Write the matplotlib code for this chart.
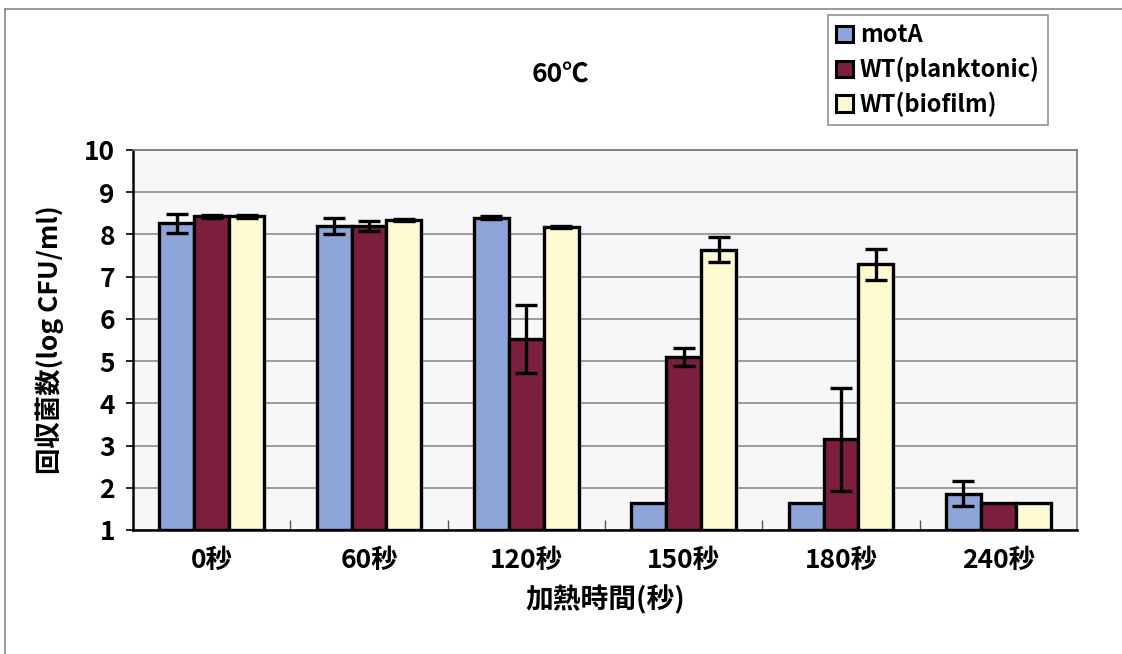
import matplotlib
matplotlib.use("Agg")
import matplotlib.pyplot as plt
import numpy as np
from matplotlib.patches import Patch
from matplotlib.lines import Line2D

plt.rcParams['font.family'] = ['Noto Sans CJK JP', 'DejaVu Sans']

categories = ["0秒", "60秒", "120秒", "150秒", "180秒", "240秒"]
series_names = ["motA", "WT(planktonic)", "WT(biofilm)"]
motA = [8.26, 8.20, 8.40, 1.65, 1.65, 1.86]
motA_err = [0.22, 0.20, 0.03, 0.0, 0.0, 0.29]
planktonic = [8.43, 8.21, 5.52, 5.10, 3.15, 1.65]
planktonic_err = [0.03, 0.12, 0.80, 0.22, 1.22, 0.0]
biofilm = [8.43, 8.34, 8.18, 7.64, 7.29, 1.65]
biofilm_err = [0.03, 0.02, 0.03, 0.30, 0.36, 0.0]
colors = ["#8EA5DA", "#7C1F3E", "#FDF9D0"]
yticks = [1, 2, 3, 4, 5, 6, 7, 8, 9, 10]

W, H = 1122, 654
fig = plt.figure(figsize=(W / 100, H / 100), dpi=100)
fig.patch.set_facecolor("white")

# outer chart frame (left and top)
fig.add_artist(Line2D([5 / W, 5 / W], [0.0, 1 - 9 / H], color="#888888", lw=1.2))
fig.add_artist(Line2D([5 / W, 1.0], [1 - 9 / H, 1 - 9 / H], color="#888888", lw=1.2))

ax = fig.add_axes([133 / W, 1 - 530 / H, (1077 - 133) / W, (530 - 150) / H])
ax.set_facecolor("#F7F7FA")

x = np.arange(len(categories))
bw = 1 / 4.5
data = [(motA, motA_err), (planktonic, planktonic_err), (biofilm, biofilm_err)]
base = 1
for k, (vals, errs) in enumerate(data):
    pos = x + (k - 1) * bw
    heights = [v - base for v in vals]
    ax.bar(pos, heights, width=bw, bottom=base, color=colors[k],
           edgecolor="black", linewidth=2.4, zorder=3, label=series_names[k])
    for p, v, e in zip(pos, vals, errs):
        if e > 0:
            ax.errorbar(p, v, yerr=e, fmt="none", ecolor="black",
                        elinewidth=2.4, capsize=8, capthick=2.4, zorder=4)

ax.set_xlim(-0.5, len(categories) - 0.5)
ax.set_ylim(1, 10)
ax.set_yticks(yticks)
ax.set_yticklabels([str(t) for t in yticks], fontsize=19, fontweight="bold")
ax.yaxis.grid(True, color="#8C8C8C", lw=1.2, zorder=0)
ax.set_axisbelow(True)
ax.tick_params(axis="y", direction="out", length=5, width=1.2, pad=8)

ax.set_xticks(x)
ax.set_xticklabels(categories, fontsize=19, fontweight="bold")
ax.tick_params(axis="x", length=0, pad=12)
# minor ticks at category boundaries, pointing inward
ax.set_xticks(np.arange(0.5, len(categories) - 0.5, 1), minor=True)
ax.tick_params(axis="x", which="minor", direction="in", length=7, width=1.0, color="#555555")

for s in ["left", "bottom"]:
    ax.spines[s].set_linewidth(1.8)
    ax.spines[s].set_color("black")
for s in ["top", "right"]:
    ax.spines[s].set_linewidth(1.2)
    ax.spines[s].set_color("#777777")

ax.set_xlabel("加熱時間(秒)", fontsize=20, fontweight="bold", labelpad=8)
ax.set_ylabel("回収菌数(log CFU/ml)", fontsize=19, fontweight="bold", labelpad=14)

fig.text(560 / W, 1 - 75 / H, "60℃", fontsize=19, fontweight="bold",
         ha="center", va="center")

handles = [Patch(facecolor=c, edgecolor="black", linewidth=2.2) for c in colors]
leg = fig.legend(handles, series_names, loc="upper left",
                 bbox_to_anchor=(828 / W, 1 - 15 / H),
                 prop={"size": 17, "weight": "bold"},
                 frameon=True, fancybox=False, edgecolor="#777777",
                 handlelength=0.7, handleheight=0.7, handletextpad=0.3,
                 labelspacing=0.4, borderpad=0.35, borderaxespad=0)
leg.get_frame().set_linewidth(1.2)

fig.savefig("out.png", dpi=100)
